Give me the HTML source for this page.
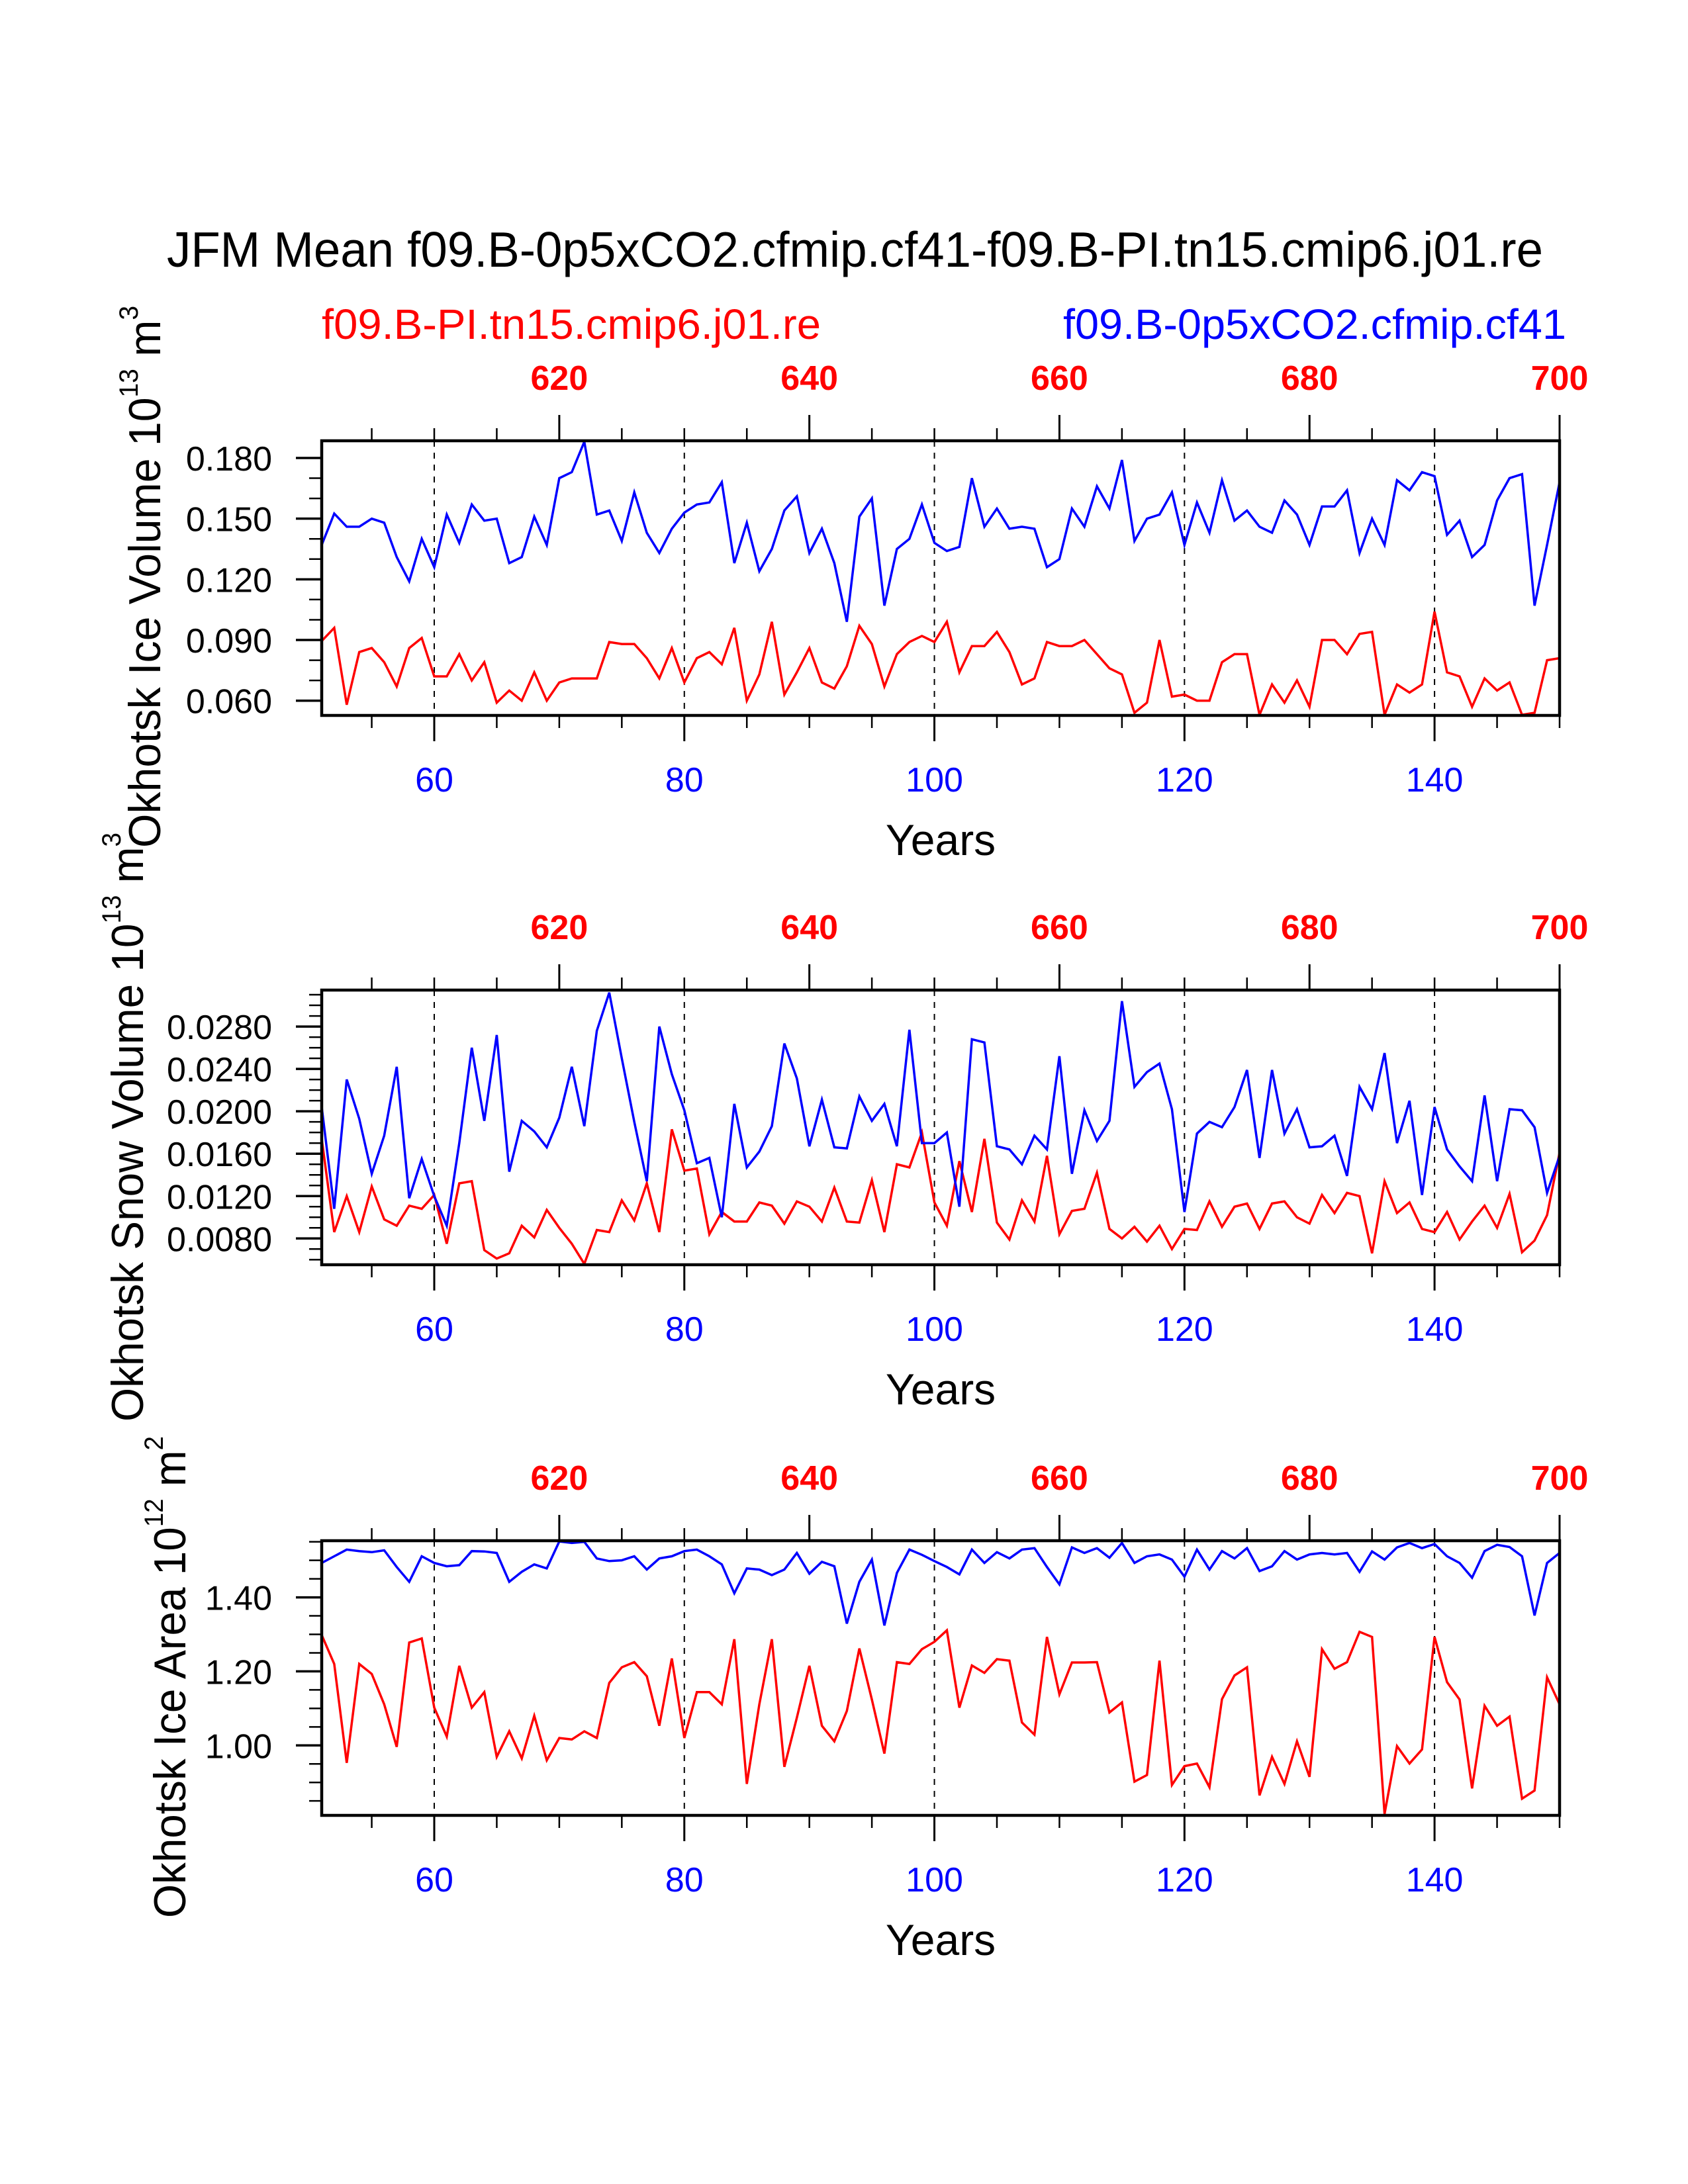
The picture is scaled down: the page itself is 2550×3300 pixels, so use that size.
<!DOCTYPE html>
<html><head><meta charset="utf-8"><style>
html,body{margin:0;padding:0;background:#fff;}
svg{display:block;font-family:"Liberation Sans",Arial,sans-serif;}
</style></head><body>
<svg id="chart" width="2550" height="3300" viewBox="0 0 2550 3300" xmlns="http://www.w3.org/2000/svg">
<rect width="2550" height="3300" fill="#fff"/>
<text x="252" y="403" font-size="75" textLength="2079" lengthAdjust="spacingAndGlyphs">JFM Mean f09.B-0p5xCO2.cfmip.cf41-f09.B-PI.tn15.cmip6.j01.re</text>
<text x="486" y="512" font-size="64" fill="#ff0000" textLength="754" lengthAdjust="spacingAndGlyphs">f09.B-PI.tn15.cmip6.j01.re</text>
<text x="1606" y="512" font-size="64" fill="#0000ff" textLength="760" lengthAdjust="spacingAndGlyphs">f09.B-0p5xCO2.cfmip.cf41</text>
<g id="plots"></g>
</svg>
<script>
const years = [];
for (let y = 51; y <= 150; y++) years.push(y);

const iceVolBlue = [0.137,0.1525,0.146,0.146,0.150,0.148,0.131,0.119,0.140,0.126,0.152,0.138,0.157,0.149,0.150,0.128,0.131,0.151,0.137,0.170,0.173,0.188,0.152,0.154,0.139,0.163,0.143,0.133,0.145,0.153,0.157,0.158,0.168,0.128,0.148,0.124,0.135,0.154,0.161,0.133,0.145,0.128,0.099,0.151,0.160,0.107,0.135,0.140,0.157,0.138,0.134,0.136,0.170,0.146,0.155,0.145,0.146,0.145,0.126,0.130,0.155,0.146,0.166,0.155,0.179,0.139,0.150,0.152,0.163,0.137,0.158,0.143,0.169,0.149,0.154,0.146,0.143,0.159,0.152,0.137,0.156,0.156,0.164,0.133,0.150,0.137,0.169,0.164,0.173,0.171,0.142,0.149,0.131,0.137,0.159,0.170,0.172,0.107,0.137,0.168];
const iceVolRed = [0.0895,0.096,0.058,0.084,0.086,0.079,0.067,0.086,0.091,0.072,0.072,0.083,0.070,0.079,0.059,0.065,0.060,0.074,0.060,0.069,0.071,0.071,0.071,0.089,0.088,0.088,0.081,0.071,0.086,0.069,0.081,0.084,0.078,0.096,0.060,0.073,0.099,0.063,0.074,0.086,0.069,0.066,0.077,0.097,0.088,0.067,0.083,0.089,0.092,0.089,0.099,0.074,0.087,0.087,0.094,0.084,0.068,0.071,0.089,0.087,0.087,0.090,0.083,0.076,0.073,0.054,0.059,0.090,0.062,0.063,0.060,0.060,0.079,0.083,0.083,0.053,0.068,0.059,0.070,0.057,0.090,0.090,0.083,0.093,0.094,0.053,0.068,0.064,0.068,0.104,0.074,0.072,0.057,0.071,0.065,0.069,0.053,0.054,0.080,0.081];
const snowBlue = [0.0204,0.0108,0.0230,0.0193,0.0141,0.0177,0.0242,0.0118,0.0155,0.0120,0.0092,0.0170,0.0260,0.0191,0.0272,0.0143,0.0191,0.0181,0.0166,0.0194,0.0242,0.0186,0.0276,0.0312,0.0250,0.0190,0.0134,0.0280,0.0235,0.0201,0.0151,0.0156,0.0100,0.0207,0.0147,0.0162,0.0186,0.0264,0.0231,0.0167,0.0211,0.0166,0.0165,0.0214,0.0191,0.0207,0.0167,0.0277,0.0170,0.0170,0.0180,0.0110,0.0268,0.0265,0.0167,0.0164,0.0150,0.0177,0.0164,0.0252,0.0141,0.0201,0.0172,0.0191,0.0304,0.0223,0.0237,0.0245,0.0202,0.0105,0.0179,0.0190,0.0185,0.0204,0.0239,0.0156,0.0239,0.0179,0.0202,0.0166,0.0167,0.0177,0.0139,0.0223,0.0202,0.0255,0.0170,0.0210,0.0121,0.0204,0.0164,0.0148,0.0134,0.0215,0.0134,0.0202,0.0201,0.0185,0.0123,0.0158];
const snowRed = [0.0174,0.0086,0.0120,0.0086,0.0129,0.0098,0.0092,0.0111,0.0108,0.0121,0.0075,0.0132,0.0134,0.0069,0.0061,0.0066,0.0092,0.0081,0.0107,0.0090,0.0075,0.0056,0.0088,0.0086,0.0116,0.0097,0.0132,0.0086,0.0183,0.0144,0.0146,0.0084,0.0105,0.0096,0.0096,0.0114,0.0111,0.0094,0.0115,0.0110,0.0096,0.0128,0.0096,0.0095,0.0135,0.0086,0.0150,0.0147,0.0180,0.0114,0.0092,0.0153,0.0105,0.0174,0.0095,0.0079,0.0116,0.0096,0.0158,0.0084,0.0106,0.0108,0.0142,0.0089,0.0080,0.0091,0.0077,0.0092,0.0070,0.0089,0.0088,0.0115,0.0091,0.0110,0.0113,0.0089,0.0113,0.0115,0.0100,0.0094,0.0121,0.0104,0.0123,0.0120,0.0066,0.0134,0.0104,0.0114,0.0089,0.0086,0.0105,0.0079,0.0096,0.0111,0.0090,0.0122,0.0067,0.0078,0.0102,0.0161];
const areaBlue = [1.493,1.511,1.529,1.525,1.522,1.527,1.482,1.442,1.511,1.493,1.484,1.487,1.525,1.524,1.520,1.442,1.469,1.489,1.478,1.551,1.547,1.550,1.505,1.498,1.500,1.511,1.475,1.505,1.511,1.525,1.529,1.511,1.489,1.411,1.478,1.475,1.460,1.475,1.520,1.464,1.496,1.484,1.329,1.442,1.502,1.324,1.466,1.529,1.515,1.498,1.482,1.462,1.529,1.493,1.522,1.505,1.529,1.533,1.482,1.435,1.535,1.520,1.533,1.507,1.547,1.493,1.511,1.516,1.502,1.456,1.529,1.475,1.525,1.505,1.533,1.471,1.484,1.525,1.502,1.516,1.520,1.516,1.520,1.469,1.524,1.502,1.535,1.547,1.533,1.544,1.511,1.493,1.453,1.525,1.542,1.536,1.511,1.351,1.493,1.520];
const areaRed = [1.298,1.220,0.953,1.220,1.193,1.111,0.996,1.278,1.289,1.102,1.024,1.215,1.102,1.144,0.969,1.038,0.965,1.080,0.960,1.020,1.016,1.038,1.020,1.169,1.211,1.225,1.187,1.053,1.235,1.020,1.144,1.144,1.111,1.287,0.896,1.111,1.287,0.942,1.075,1.215,1.053,1.011,1.093,1.262,1.124,0.978,1.225,1.220,1.260,1.280,1.311,1.102,1.216,1.196,1.233,1.229,1.062,1.029,1.293,1.138,1.224,1.224,1.225,1.089,1.116,0.902,0.920,1.229,0.893,0.944,0.951,0.887,1.125,1.189,1.211,0.865,0.969,0.896,1.011,0.915,1.260,1.207,1.225,1.307,1.293,0.815,0.998,0.951,0.989,1.293,1.171,1.124,0.884,1.107,1.053,1.078,0.856,0.878,1.184,1.111];

const bottomTickLabels = ["60","80","100","120","140"];
const topTickLabels = ["620","640","660","680","700"];
const iceVolTicks = ["0.180","0.150","0.120","0.090","0.060"];
const snowTicks = ["0.0280","0.0240","0.0200","0.0160","0.0120","0.0080"];
const areaTicks = ["1.40","1.20","1.00"];

const NS = "http://www.w3.org/2000/svg";
const root = document.getElementById("plots");
const X0 = 486, X1 = 2356, H = 415;
const xMin = 51, xMax = 150, redOffset = 550;
function xs(v){ return X0 + (v - xMin) / (xMax - xMin) * (X1 - X0); }
function mk(tag, attrs, parent){
  const e = document.createElementNS(NS, tag);
  for (const k in attrs) e.setAttribute(k, attrs[k]);
  (parent || root).appendChild(e);
  return e;
}

const panels = [
  {top:666, yMin:0.0527, yMax:0.1885, minor:0.01, ticks:iceVolTicks, blue:iceVolBlue, red:iceVolRed, key:"ice-volume",
   title:["Okhotsk Ice Volume 10","13"," m","3"], tx:242, tyTop:462, tyBot:1281},
  {top:1496, yMin:0.00552, yMax:0.03144, minor:0.001, ticks:snowTicks, blue:snowBlue, red:snowRed, key:"snow-volume",
   title:["Okhotsk Snow Volume 10","13"," m","3"], tx:216, tyTop:1258, tyBot:2148},
  {top:2328, yMin:0.811, yMax:1.553, minor:0.05, ticks:areaTicks, blue:areaBlue, red:areaRed, key:"ice-area",
   title:["Okhotsk Ice Area 10","12"," m","2"], tx:280, tyTop:2170, tyBot:2898}
];

panels.forEach(function(p){
  const g = mk("g", {});
  
  
  const T = p.top, B = p.top + H;
  function ys(v){ return B - (v - p.yMin) / (p.yMax - p.yMin) * H; }

  // dashed grid
  bottomTickLabels.forEach(function(lab){
    const x = xs(+lab);
    const l = mk("line", {x1:x, x2:x, y1:T, y2:B, stroke:"#000", "stroke-width":2, "stroke-dasharray":"9,9"}, g);
    
    
  });

  // series
  const clipId = "clip-" + p.key;
  const cp = mk("clipPath", {id:clipId}, g);
  mk("rect", {x:X0, y:T, width:X1-X0, height:H}, cp);
  [["red", p.red, "#ff0000"], ["blue", p.blue, "#0000ff"]].forEach(function(s){
    const pts = years.map(function(yr, i){ return xs(yr).toFixed(1) + "," + ys(s[1][i]).toFixed(1); }).join(" ");
    const pl = mk("polyline", {points:pts, fill:"none", stroke:s[2], "stroke-width":3.5, "stroke-linejoin":"miter", "clip-path":"url(#" + clipId + ")"}, g);
    
    
  });

  // box
  const box = mk("rect", {x:X0, y:T, width:X1-X0, height:H, fill:"none", stroke:"#000", "stroke-width":4.5}, g);
  
  

  // x ticks
  for (let yr = 55; yr <= 150; yr += 5){
    const x = xs(yr);
    const bottomMajor = (yr % 20 === 0 && yr <= 140);
    const topMajor = ((yr + redOffset) % 20 === 0);
    mk("line", {x1:x, x2:x, y1:B, y2:B + (bottomMajor ? 39 : 19), stroke:"#000", "stroke-width": bottomMajor ? 3 : 2.5}, g);
    mk("line", {x1:x, x2:x, y1:T, y2:T - (topMajor ? 39 : 19), stroke:"#000", "stroke-width": topMajor ? 3 : 2.5}, g);
  }
  bottomTickLabels.forEach(function(lab){
    const t = mk("text", {x:xs(+lab), y:B + 115, "font-size":52, fill:"#0000ff", "text-anchor":"middle"}, g);
    t.textContent = lab;
    
    
  });
  topTickLabels.forEach(function(lab){
    const t = mk("text", {x:xs(+lab - redOffset), y:T - 77, "font-size":52, "font-weight":"bold", fill:"#ff0000", "text-anchor":"middle"}, g);
    t.textContent = lab;
    
    
  });
  const xt = mk("text", {x:1421, y:B + 211, "font-size":66, "text-anchor":"middle"}, g);
  xt.textContent = "Years";
  
  

  // y ticks
  const start = Math.ceil(p.yMin / p.minor - 1e-6);
  for (let k = start; k * p.minor <= p.yMax + 1e-9; k++){
    const v = k * p.minor;
    const y = ys(v);
    const isMajor = p.ticks.some(function(s){ return Math.abs(+s - v) < p.minor * 0.01; });
    mk("line", {x1:X0 - (isMajor ? 39 : 19), x2:X0, y1:y, y2:y, stroke:"#000", "stroke-width": isMajor ? 3.5 : 2.5}, g);
  }
  p.ticks.forEach(function(lab){
    const t = mk("text", {x:411, y:ys(+lab) + 19, "font-size":52, "text-anchor":"end"}, g);
    t.textContent = lab;
    
    
  });

  // y title
  const len = p.tyBot - p.tyTop;
  const cy = (p.tyTop + p.tyBot) / 2;
  const yt = mk("text", {x:p.tx, y:cy, "font-size":68, "text-anchor":"middle", transform:"rotate(-90 " + p.tx + " " + cy + ")", textLength:len, lengthAdjust:"spacingAndGlyphs"}, g);
  
  
  const a = mk("tspan", {}, yt); a.textContent = p.title[0];
  const b = mk("tspan", {"font-size":40, dy:-34}, yt); b.textContent = p.title[1];
  const c = mk("tspan", {dy:34}, yt); c.textContent = p.title[2];
  const d = mk("tspan", {"font-size":40, dy:-34}, yt); d.textContent = p.title[3];
});
</script>
</body></html>
